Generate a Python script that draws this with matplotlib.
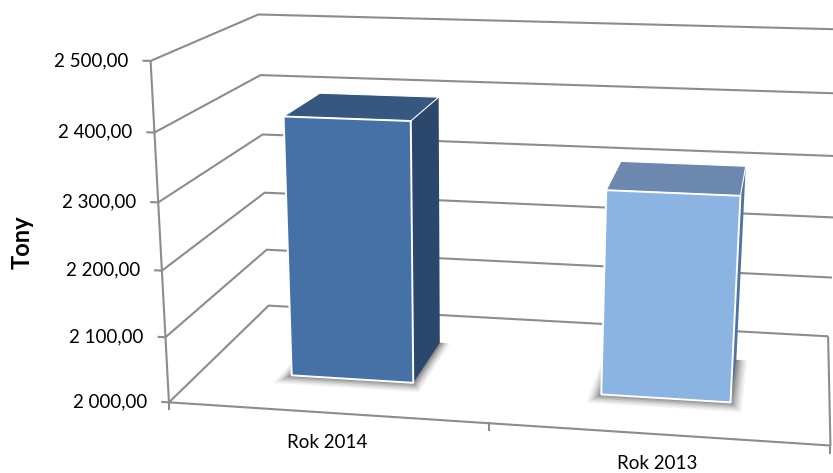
import numpy as np
import matplotlib
matplotlib.use('Agg')
import matplotlib.pyplot as plt
from matplotlib.patches import Polygon

plt.rcParams['font.family'] = ['Lato', 'DejaVu Sans']

# Values
categories = ['Rok 2014', 'Rok 2013']
tons = [2400, 2310]
axis_values = [2000, 2100, 2200, 2300, 2400, 2500]
axis_labels = ['2 000,00', '2 100,00', '2 200,00', '2 300,00', '2 400,00', '2 500,00']

front_colors = ['#4571A7', '#8CB4E3']
top_colors = ['#355780', '#6C88AF']
side_colors = ['#2B476B', '#4F74A3']
GRID = '#8C8C8C'

# wall corners (category pos, depth, value) -> pixel, used to fit the 3D camera
world = [(0, 0, 2000), (0, 0, 2500), (0, 1, 2500), (0, 1, 2000),
         (2, 0, 2000), (1, 0, 2000), (2, 1, 2000), (2, 1, 2500)]
pixels = [(169, 402), (151, 61), (258, 14), (269, 306),
          (831, 445), (488, 424), (828, 336), (848, 30)]


def fit_camera():
    rows = []
    rhs = []
    for (x, d, v), (px, py) in zip(world, pixels):
        v = (v - 2000) / 500
        rows.append([x, d, v, 1, 0, 0, 0, 0, -px * x, -px * d, -px * v])
        rhs.append(px)
        rows.append([0, 0, 0, 0, x, d, v, 1, -py * x, -py * d, -py * v])
        rhs.append(py)
    h = np.linalg.lstsq(np.array(rows, float), np.array(rhs, float), rcond=None)[0]
    return np.append(h, 1).reshape(3, 4)


CAM = fit_camera()


def proj(x, d, v):
    p = CAM @ np.array([x, d, (v - 2000) / 500, 1.0])
    return p[0] / p[2], p[1] / p[2]


fig = plt.figure(figsize=(8.33, 4.73), dpi=100)
ax = fig.add_axes([0, 0, 1, 1])
ax.set_xlim(0, 833)
ax.set_ylim(473, 0)
ax.axis('off')


def line(pts, **kw):
    xy = np.array([proj(*p) for p in pts])
    ax.plot(xy[:, 0], xy[:, 1], color=GRID, lw=1.5, solid_capstyle='butt', zorder=1, **kw)


def face(pts, color, edge='none', lw=0, z=3, alpha=None):
    ax.add_patch(Polygon([proj(*p) for p in pts], closed=True, facecolor=color,
                         edgecolor=edge, lw=lw, zorder=z, alpha=alpha, joinstyle='round'))


# walls and floor
for v in axis_values:
    line([(-0.025, 0, v), (0, 0, v), (0, 1, v), (2, 1, v)])
line([(0, 0, 2000), (0, 0, 2500)])
line([(0, 0, 2000), (2, 0, 2000), (2, 1, 2000)])

# category ticks hang straight down from the front edge
for x in [0, 1, 2]:
    px, py = proj(x, 0, 2000)
    ax.plot([px, px], [py, py + 7], color=GRID, lw=1.5, zorder=1)

for v, lab in zip(axis_values, axis_labels):
    px, py = proj(-0.025, 0, v)
    ax.text(px - 14, py, lab, ha='right', va='center', fontsize=13.5, color='black')

ax.text(22, 242, 'Tony', rotation=90, ha='center', va='center', fontsize=17,
        fontweight='bold', color='black')

label_pos = [(327, 442), (657, 463)]
for lab, (px, py) in zip(categories, label_pos):
    ax.text(px, py, lab, ha='center', va='center', fontsize=13.5, color='black')

# bars
bar_x = [0.3, 1.3]
BAR_W = 0.4
D0, D1 = 0.3, 0.7
for i, val in enumerate(tons):
    x0 = bar_x[i]
    x1 = x0 + BAR_W
    # floor shadow
    for pad, a in [(0.036, 0.07), (0.03, 0.09), (0.024, 0.12), (0.018, 0.16), (0.012, 0.22), (0.006, 0.3)]:
        face([(x0 - pad, D0 - pad * 2.2, 2000), (x1 + pad, D0 - pad * 2.2, 2000),
              (x1 + pad, D1, 2000), (x0 - pad, D1, 2000)], '#555555', z=2, alpha=a)
    face([(x1, D0, 2000), (x1, D1, 2000), (x1, D1, val), (x1, D0, val)], side_colors[i], z=3)
    face([(x0, D0, val), (x1, D0, val), (x1, D1, val), (x0, D1, val)], top_colors[i],
         edge='white', lw=0.8, z=3)
    face([(x0, D0, 2000), (x1, D0, 2000), (x1, D0, val), (x0, D0, val)], front_colors[i],
         edge='white', lw=1.4, z=4)

fig.savefig('out.png', dpi=100)
